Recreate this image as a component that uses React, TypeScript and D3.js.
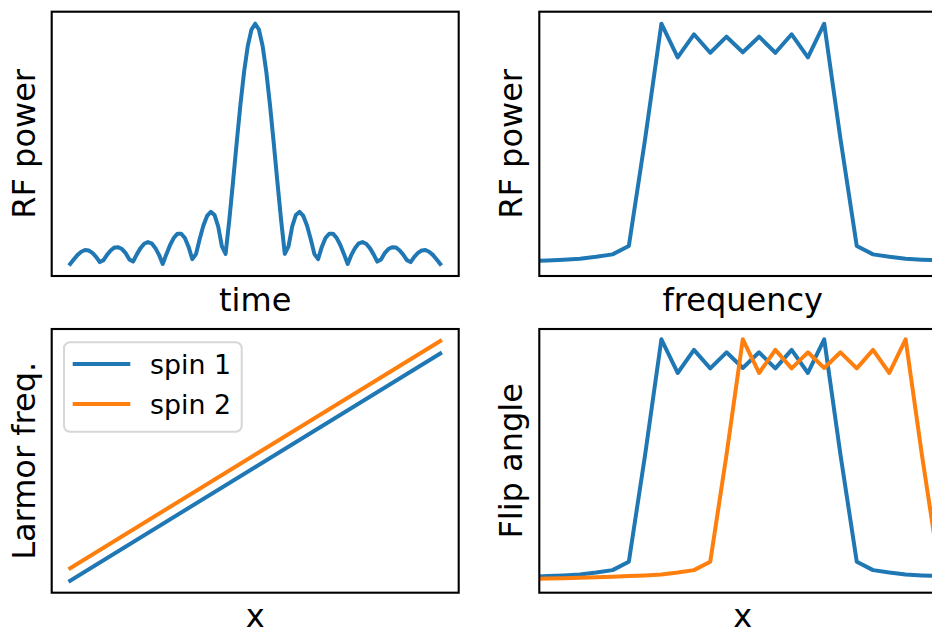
import React from "react";
import * as d3 from "d3";

// RF pulse envelope in time (101 samples, |sinc| shape)
const pulseTime = [
  0.000, 0.020, 0.038, 0.051, 0.058, 0.056, 0.046, 0.030, 0.008, 0.016,
  0.039, 0.057, 0.069, 0.070, 0.062, 0.045, 0.019, 0.010, 0.040, 0.066,
  0.084, 0.091, 0.086, 0.067, 0.038, 0.000, 0.041, 0.079, 0.109, 0.126,
  0.126, 0.108, 0.071, 0.020, 0.041, 0.104, 0.160, 0.200, 0.217, 0.204,
  0.156, 0.073, 0.042, 0.183, 0.341, 0.505, 0.662, 0.800, 0.908, 0.976,
  1.000,
  0.976, 0.908, 0.800, 0.662, 0.505, 0.341, 0.183, 0.042, 0.073, 0.156,
  0.204, 0.217, 0.200, 0.160, 0.104, 0.041, 0.020, 0.071, 0.108, 0.126,
  0.126, 0.109, 0.079, 0.041, 0.000, 0.038, 0.067, 0.086, 0.091, 0.084,
  0.066, 0.040, 0.010, 0.019, 0.045, 0.062, 0.070, 0.069, 0.057, 0.039,
  0.016, 0.008, 0.030, 0.046, 0.056, 0.058, 0.051, 0.038, 0.020, 0.000,
];

// frequency bins for the spectrum / flip angle profiles
const freqBins = [
  -20, -19, -18, -17, -16, -15, -14, -13, -12, -11, -10, -9, -8, -7, -6, -5, -4, -3, -2, -1,
  0, 1, 2, 3, 4, 5, 6, 7, 8, 9, 10, 11, 12, 13, 14, 15, 16, 17, 18, 19, 20,
];
const spectrum = [
  0.003, 0.004, 0.004, 0.005, 0.006, 0.008, 0.010, 0.012, 0.015, 0.018,
  0.022, 0.030, 0.040, 0.075, 0.520, 1.000, 0.860, 0.956, 0.879, 0.946,
  0.881,
  0.946, 0.879, 0.956, 0.860, 1.000, 0.520, 0.075, 0.040, 0.030, 0.022,
  0.018, 0.015, 0.012, 0.010, 0.008, 0.006, 0.005, 0.004, 0.004, 0.003,
];
const flipSpin2 = [
  0.002, 0.002, 0.002, 0.003, 0.003, 0.003, 0.004, 0.004, 0.005, 0.006,
  0.008, 0.010, 0.012, 0.015, 0.018, 0.022, 0.030, 0.040, 0.075, 0.520,
  1.000,
  0.860, 0.956, 0.879, 0.946, 0.881, 0.946, 0.879, 0.956, 0.860, 1.000,
  0.520, 0.075, 0.040, 0.030, 0.022, 0.018, 0.015, 0.012, 0.010, 0.008,
];

// Larmor frequency vs position
const position = [-1, 1];
const larmorSpin1 = [-1, 1];
const larmorSpin2 = [-0.89, 1.11];
const legendLabels = ["spin 1", "spin 2"];

const BLUE = "#1f77b4";
const ORANGE = "#ff7f0e";
const FONT = "DejaVu Sans, Verdana, sans-serif";
const FS = 32;
const LEG_FS = 26.8;
const LW = 4;

const cols = [
  [51.7, 458.7],
  [539.3, 946.3],
];
const rows = [
  [11.7, 276],
  [329, 592.7],
];

type Series = { xs: number[]; ys: number[]; color: string };

function Panel(props: {
  id: string;
  col: number;
  row: number;
  xDomain: [number, number];
  yDomain: [number, number];
  series: Series[];
  xlabel: string;
  ylabel: string;
  children?: React.ReactNode;
}) {
  const [x0, x1] = cols[props.col];
  const [y0, y1] = rows[props.row];
  const x = d3.scaleLinear().domain(props.xDomain).range([x0, x1]);
  const y = d3.scaleLinear().domain(props.yDomain).range([y1, y0]);
  const line = d3
    .line<[number, number]>()
    .x((d) => x(d[0]))
    .y((d) => y(d[1]));
  return (
    <g>
      <defs>
        <clipPath id={props.id}>
          <rect x={x0} y={y0} width={x1 - x0} height={y1 - y0} />
        </clipPath>
      </defs>
      <g clipPath={`url(#${props.id})`}>
        {props.series.map((s, i) => (
          <path
            key={i}
            d={line(s.xs.map((v, j) => [v, s.ys[j]] as [number, number])) || ""}
            fill="none"
            stroke={s.color}
            strokeWidth={LW}
            strokeLinejoin="round"
            strokeLinecap="square"
          />
        ))}
      </g>
      <rect x={x0} y={y0} width={x1 - x0} height={y1 - y0} fill="none" stroke="#000" strokeWidth={2.1} />
      <text x={(x0 + x1) / 2} y={y1 + 34.5} textAnchor="middle" fontFamily={FONT} fontSize={FS}>
        {props.xlabel}
      </text>
      <text
        transform={`translate(${x0 - 17},${(y0 + y1) / 2}) rotate(-90)`}
        textAnchor="middle"
        fontFamily={FONT}
        fontSize={FS}
      >
        {props.ylabel}
      </text>
      {props.children}
    </g>
  );
}

export default function App() {
  const timeIdx = pulseTime.map((_, i) => i);
  return (
    <svg
      width={932}
      height={628}
      style={{ position: "absolute", left: 0, top: 0, background: "#fff" }}
    >
      <Panel
        id="c1"
        col={0}
        row={0}
        xDomain={[-5, 105]}
        yDomain={[-0.05, 1.05]}
        series={[{ xs: timeIdx, ys: pulseTime, color: BLUE }]}
        xlabel="time"
        ylabel="RF power"
      />
      <Panel
        id="c2"
        col={1}
        row={0}
        xDomain={[-12.5, 12.5]}
        yDomain={[-0.05, 1.05]}
        series={[{ xs: freqBins, ys: spectrum, color: BLUE }]}
        xlabel="frequency"
        ylabel="RF power"
      />
      <Panel
        id="c3"
        col={0}
        row={1}
        xDomain={[-1.1, 1.1]}
        yDomain={[-1.1055, 1.2155]}
        series={[
          { xs: position, ys: larmorSpin1, color: BLUE },
          { xs: position, ys: larmorSpin2, color: ORANGE },
        ]}
        xlabel="x"
        ylabel="Larmor freq."
      >
        <g>
          <rect x={64} y={342.3} width={177.7} height={89.4} rx={6} fill="#fff" fillOpacity={0.8} stroke="#d6d6d6" strokeWidth={2} />
          {legendLabels.map((lab, i) => (
            <g key={lab}>
              <line
                x1={74.7}
                x2={128.3}
                y1={364 + i * 40}
                y2={364 + i * 40}
                stroke={i === 0 ? BLUE : ORANGE}
                strokeWidth={LW}
                strokeLinecap="square"
              />
              <text x={150} y={373.5 + i * 40} fontFamily={FONT} fontSize={LEG_FS}>
                {lab}
              </text>
            </g>
          ))}
        </g>
      </Panel>
      <Panel
        id="c4"
        col={1}
        row={1}
        xDomain={[-12.5, 12.5]}
        yDomain={[-0.054, 1.043]}
        series={[
          { xs: freqBins, ys: spectrum, color: BLUE },
          { xs: freqBins, ys: flipSpin2, color: ORANGE },
        ]}
        xlabel="x"
        ylabel="Flip angle"
      />
    </svg>
  );
}
